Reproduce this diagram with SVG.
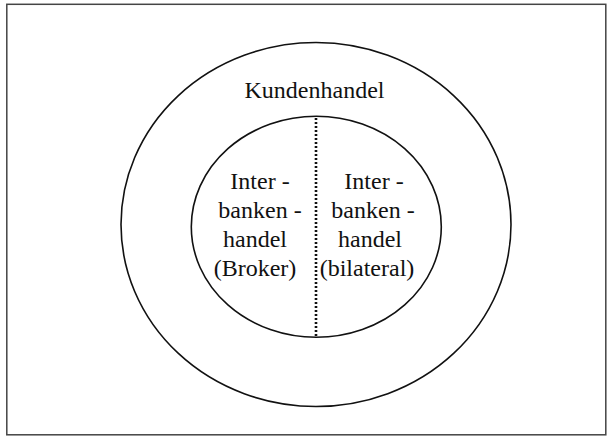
<svg xmlns="http://www.w3.org/2000/svg" width="607" height="436" viewBox="0 0 607 436">
<style>
.c{fill:none;stroke:#111;stroke-width:1.6}
.t{font-family:"Liberation Serif","Times New Roman",serif;font-size:24px;fill:#111;text-anchor:middle}
</style>
<rect x="0" y="0" width="607" height="436" fill="#fff"/>
<rect x="6.8" y="4.3" width="599" height="430.5" fill="none" stroke="#444" stroke-width="1.5"/>
<g id="outer">
<ellipse class="c" cx="316" cy="224.5" rx="195" ry="182"/>
<text class="t" x="314.5" y="98">Kundenhandel</text>
</g>
<g id="inner">
<ellipse class="c" cx="316.3" cy="226.8" rx="125" ry="110.5"/>
</g>
<g id="connectors">
<line x1="316" y1="118" x2="316" y2="337" stroke="#111" stroke-width="2.6" stroke-dasharray="2 2"/>
</g>
<g id="broker">
<text class="t" x="260" y="189">Inter -</text>
<text class="t" x="260" y="218">banken -</text>
<text class="t" x="255" y="247">handel</text>
<text class="t" x="255" y="276">(Broker)</text>
</g>
<g id="bilateral">
<text class="t" x="374" y="189">Inter -</text>
<text class="t" x="373" y="218">banken -</text>
<text class="t" x="370" y="247">handel</text>
<text class="t" x="367" y="276">(bilateral)</text>
</g>
</svg>
